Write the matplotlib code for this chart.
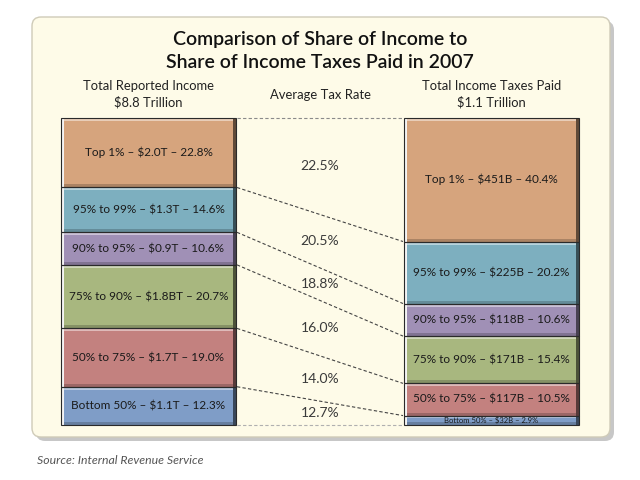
import numpy as np
import matplotlib.pyplot as plt
import matplotlib.colors as mcolors
from matplotlib.patches import FancyBboxPatch, Rectangle

plt.rcParams['font.family'] = ['Lato', 'DejaVu Sans']

# данные
groups = ['Top 1%', '95% to 99%', '90% to 95%', '75% to 90%', '50% to 75%', 'Bottom 50%']
income_amt = ['$2.0T', '$1.3T', '$0.9T', '$1.8BT', '$1.7T', '$1.1T']
income_share = [22.8, 14.6, 10.6, 20.7, 19.0, 12.3]
tax_amt = ['$451B', '$225B', '$118B', '$171B', '$117B', '$32B']
tax_share = [40.4, 20.2, 10.6, 15.4, 10.5, 2.9]
avg_rate = [22.5, 20.5, 18.8, 16.0, 14.0, 12.7]
colors = ['#D6A47D', '#7DAFBF', '#A090B6', '#A8B77F', '#C3817F', '#7F9DC7']

# раскладка в пикселях
W, H = 640, 480
LEFT_X = (61, 236)
RIGHT_X = (404, 579)
TOP = 117.5
COL_H = 307.0
SCALE = COL_H / 100.0

fig = plt.figure(figsize=(6.4, 4.8), dpi=100)
ax = fig.add_axes([0, 0, 1, 1])
ax.set_xlim(0, W)
ax.set_ylim(H, 0)
ax.axis('off')

# панель с тенью
shadow = FancyBboxPatch((36, 21), 578, 420, boxstyle='round,pad=0,rounding_size=9',
                        fc='#9a9a9a', ec='none', alpha=0.55, zorder=0)
ax.add_patch(shadow)
panel = FancyBboxPatch((32, 17), 578, 420, boxstyle='round,pad=0,rounding_size=9',
                       fc='#FEFBE8', ec='#CFCBB8', lw=1.0, zorder=1)
ax.add_patch(panel)

ax.text(320, 40, 'Comparison of Share of Income to', ha='center', va='center',
        fontsize=14, fontweight='semibold', color='#111111', zorder=5)
ax.text(320, 63, 'Share of Income Taxes Paid in 2007', ha='center', va='center',
        fontsize=14, fontweight='semibold', color='#111111', zorder=5)

hdr = dict(ha='center', va='center', fontsize=9.4, color='#222222', zorder=5)
ax.text(sum(LEFT_X) / 2, 86, 'Total Reported Income', **hdr)
ax.text(sum(LEFT_X) / 2, 102, '$8.8 Trillion', **hdr)
ax.text(320, 95, 'Average Tax Rate', **hdr)
ax.text(sum(RIGHT_X) / 2, 86, 'Total Income Taxes Paid', **hdr)
ax.text(sum(RIGHT_X) / 2, 102, '$1.1 Trillion', **hdr)


def bevel_box(x0, x1, y0, y1, color):
    w = x1 - x0
    h = y1 - y0
    c = np.array(mcolors.to_rgb(color))
    light = tuple(c + (1 - c) * 0.45)
    dark = tuple(c * 0.45)
    ax.add_patch(Rectangle((x0, y0), w, h, fc=color, ec='none', zorder=3))
    b = min(3.0, h / 4)
    ax.add_patch(Rectangle((x0, y0), w, b, fc=light, ec='none', zorder=3.1))
    ax.add_patch(Rectangle((x0, y1 - b), w, b, fc=tuple(c * 0.8), ec='none', zorder=3.1))
    ax.add_patch(Rectangle((x0, y0), 3, h, fc='#F4F4F4', ec='none', zorder=3.2))
    ax.add_patch(Rectangle((x1 - 3, y0), 3, h, fc=dark, ec='none', zorder=3.2))
    ax.add_patch(Rectangle((x0, y0), w, h, fc='none', ec='#2a2a2a', lw=0.8, zorder=3.3))


def column(xs, shares, amts):
    edges = TOP + np.concatenate([[0], np.cumsum(shares)]) * SCALE
    for i in range(len(shares)):
        bevel_box(xs[0], xs[1], edges[i], edges[i + 1], colors[i])
        h = edges[i + 1] - edges[i]
        fs = 8.5 if h > 15 else 5.5
        ax.text(sum(xs) / 2, (edges[i] + edges[i + 1]) / 2,
                f'{groups[i]} \u2013 {amts[i]} \u2013 {shares[i]:.1f}%',
                ha='center', va='center', fontsize=fs, color='#1a1a1a', zorder=5)
    return edges


left_edges = column(LEFT_X, income_share, income_amt)
right_edges = column(RIGHT_X, tax_share, tax_amt)

# пунктирные линии между столбцами
n = len(left_edges)
for k in range(n):
    if k == 0:
        col = '#8a8a8a'
    elif k == n - 1:
        col = '#b0b0b0'
    else:
        col = '#444444'
    ax.plot([LEFT_X[1] + 1, RIGHT_X[0] - 1], [left_edges[k], right_edges[k]],
            ls=(0, (3, 2)), lw=0.8, color=col, zorder=2)

mid = (left_edges + right_edges) / 2
for i, r in enumerate(avg_rate):
    ax.text(320, (mid[i] + mid[i + 1]) / 2, f'{r:.1f}%', ha='center', va='center',
            fontsize=10, color='#3a3a3a', zorder=5)

ax.text(37, 460, 'Source: Internal Revenue Service', ha='left', va='center',
        fontsize=8.8, style='italic', color='#555555', zorder=5)

fig.savefig('out.png', dpi=100, facecolor='white')
